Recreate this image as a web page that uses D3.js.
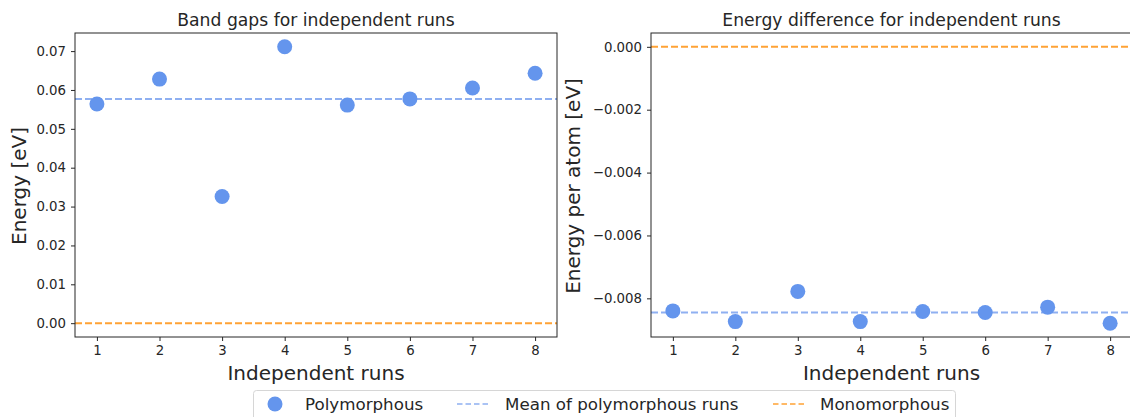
<!DOCTYPE html>
<html>
<head>
<meta charset="utf-8">
<script src="https://cdn.jsdelivr.net/npm/d3@7"></script>
<style>
  body { margin: 0; background: #fff; }
  svg { font-family: "DejaVu Sans", sans-serif; }
</style>
</head>
<body>
<script>
// Data
var runs = [1, 2, 3, 4, 5, 6, 7, 8];
var bandGaps = [0.0564, 0.0628, 0.0326, 0.0711, 0.0561, 0.0577, 0.0605, 0.0643];
var energyDiff = [-0.00840, -0.00874, -0.00778, -0.00874, -0.00842, -0.00845, -0.00828, -0.00879];
var monoBandGap = 0;
var monoEnergy = 0;
var gapTicks = [0, 0.01, 0.02, 0.03, 0.04, 0.05, 0.06, 0.07];
var diffTicks = [0, -0.002, -0.004, -0.006, -0.008];
var legendLabels = ["Polymorphous", "Mean of polymorphous runs", "Monomorphous"];

var blue = "#6495ED", meanBlue = "#8fb0f1", orange = "#ffa235";

var W = 1130, H = 417;
var svg = d3.select("body").append("svg")
  .attr("width", W)
  .attr("height", H);

function styleAxis(a) {
  a.select(".domain").remove();
  a.attr("font-family", "DejaVu Sans, sans-serif").attr("font-size", 13.3);
  a.selectAll(".tick text").attr("fill", "#262626");
  a.selectAll(".tick line").attr("stroke", "#262626");
}

function panel(opt) {
  var x = d3.scaleLinear().domain([0.65, 8.35]).range([opt.left, opt.right]);
  var vals = opt.values.concat([opt.mono]);
  var lo = d3.min(vals), hi = d3.max(vals), pad = (hi - lo) * 0.05;
  var y = d3.scaleLinear().domain([lo - pad, hi + pad]).range([337, 33]);

  var g = svg.append("g");

  // dashed reference lines
  var mean = d3.mean(opt.values);
  g.append("line")
    .attr("x1", opt.left).attr("x2", opt.right)
    .attr("y1", y(mean)).attr("y2", y(mean))
    .attr("stroke", meanBlue).attr("stroke-width", 2)
    .attr("stroke-dasharray", "7,3");
  g.append("line")
    .attr("x1", opt.left).attr("x2", opt.right)
    .attr("y1", y(opt.mono)).attr("y2", y(opt.mono))
    .attr("stroke", orange).attr("stroke-width", 2)
    .attr("stroke-dasharray", "7,3");

  g.selectAll("circle.pt")
    .data(opt.values)
    .enter().append("circle")
    .attr("class", "pt")
    .attr("cx", function(d, i) { return x(runs[i]); })
    .attr("cy", function(d) { return y(d); })
    .attr("r", 7.5)
    .attr("fill", blue);

  // axes
  g.append("g")
    .attr("transform", "translate(0,337)")
    .call(d3.axisBottom(x).tickValues(runs).tickFormat(d3.format("d")).tickSize(4).tickPadding(5))
    .call(styleAxis);
  g.append("g")
    .attr("transform", "translate(" + opt.left + ",0)")
    .call(d3.axisLeft(y).tickValues(opt.ticks).tickFormat(function(d) {
        return d3.format(opt.fmt)(d).replace("-", "\u2212");
      }).tickSize(4).tickPadding(5))
    .call(styleAxis);

  // frame
  g.append("rect")
    .attr("x", opt.left).attr("y", 33)
    .attr("width", opt.right - opt.left).attr("height", 304)
    .attr("fill", "none").attr("stroke", "#262626").attr("stroke-width", 1);

  g.append("text")
    .attr("x", (opt.left + opt.right) / 2).attr("y", 26)
    .attr("text-anchor", "middle").attr("font-size", 17.2).attr("fill", "#262626")
    .text(opt.title);
  g.append("text")
    .attr("x", (opt.left + opt.right) / 2).attr("y", 380)
    .attr("text-anchor", "middle").attr("font-size", 20).attr("fill", "#262626")
    .text("Independent runs");
  g.append("text")
    .attr("transform", "translate(" + opt.ylabX + ",186) rotate(-90)")
    .attr("text-anchor", "middle").attr("font-size", 20).attr("fill", "#262626")
    .text(opt.ylabel);
}

panel({
  left: 75, right: 557,
  values: bandGaps, mono: monoBandGap, ticks: gapTicks, fmt: ".2f",
  title: "Band gaps for independent runs", ylabel: "Energy [eV]", ylabX: 26
});
panel({
  left: 651, right: 1132,
  values: energyDiff, mono: monoEnergy, ticks: diffTicks, fmt: ".3f",
  title: "Energy difference for independent runs", ylabel: "Energy per atom [eV]", ylabX: 580
});

// legend
var lg = svg.append("g");
lg.append("rect")
  .attr("x", 253.5).attr("y", 390.5).attr("width", 702).attr("height", 40)
  .attr("rx", 3).attr("fill", "#fff").attr("stroke", "#d6d6d6");
lg.append("circle").attr("cx", 275).attr("cy", 404).attr("r", 7.5).attr("fill", blue);
lg.append("text").attr("x", 305).attr("y", 410).attr("font-size", 16.7).attr("fill", "#262626").text(legendLabels[0]);
lg.append("line").attr("x1", 457).attr("x2", 490).attr("y1", 404).attr("y2", 404)
  .attr("stroke", meanBlue).attr("stroke-width", 1.6).attr("stroke-dasharray", "5.5,3");
lg.append("text").attr("x", 505).attr("y", 410).attr("font-size", 16.7).attr("fill", "#262626").text(legendLabels[1]);
lg.append("line").attr("x1", 773).attr("x2", 806).attr("y1", 404).attr("y2", 404)
  .attr("stroke", orange).attr("stroke-width", 1.6).attr("stroke-dasharray", "5.5,3");
lg.append("text").attr("x", 820).attr("y", 410).attr("font-size", 16.7).attr("fill", "#262626").text(legendLabels[2]);
</script>
</body>
</html>
